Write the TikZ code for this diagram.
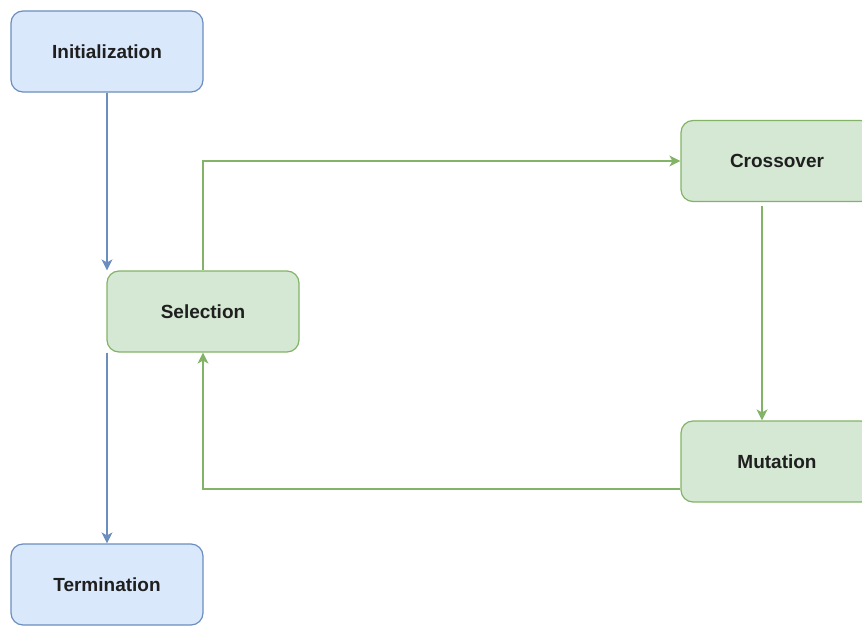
\documentclass[tikz,border=0pt]{standalone}
\usepackage{fontspec}
\setmainfont{Liberation Sans}
\usetikzlibrary{arrows.meta,calc}
\definecolor{bluefill}{HTML}{DAE8FC}
\definecolor{bluedraw}{HTML}{6C8EBF}
\definecolor{greenfill}{HTML}{D5E8D4}
\definecolor{greendraw}{HTML}{82B366}
\tikzset{
  stagebox/.style={draw, line width=1.2pt, rounded corners=12pt,
    minimum width=192pt, minimum height=81pt, inner sep=0pt,
    font=\fontsize{19}{21}\selectfont\bfseries, text=black!88},
  bluebox/.style={stagebox, fill=bluefill, draw=bluedraw},
  greenbox/.style={stagebox, fill=greenfill, draw=greendraw},
  flow/.style={line width=1.3pt, -{Stealth[length=11pt,width=11pt,inset=3pt]}},
  blueflow/.style={flow, draw=bluedraw},
  greenflow/.style={flow, draw=greendraw},
}
\begin{document}
\begin{tikzpicture}[x=1pt,y=-1pt]
  \useasboundingbox (0,0) rectangle (862,626);
  \clip (0,0) rectangle (862,626);
  % stages
  \node[bluebox]  (init)  at (107,51.5)  {Initialization};
  \node[greenbox] (sel)   at (203,311.5) {Selection};
  \node[greenbox] (cross) at (777,161)   {Crossover};
  \node[greenbox] (mut)   at (777,461.5) {Mutation};
  \node[bluebox]  (term)  at (107,584.5) {Termination};
  % flow between stages
  \draw[blueflow] (init.south) -- (init.south |- sel.north);
  \draw[blueflow] (term.north |- sel.south) -- (term.north);
  \draw[greenflow] (sel.north) |- (cross.west);
  \coordinate (cs) at ([xshift=-15pt]cross.south);
  \draw[greenflow, shorten <=4pt] (cs) -- (cs |- mut.north);
  \draw[greenflow] ([yshift=-27.5pt]mut.west) -| (sel.south);
\end{tikzpicture}
\end{document}
